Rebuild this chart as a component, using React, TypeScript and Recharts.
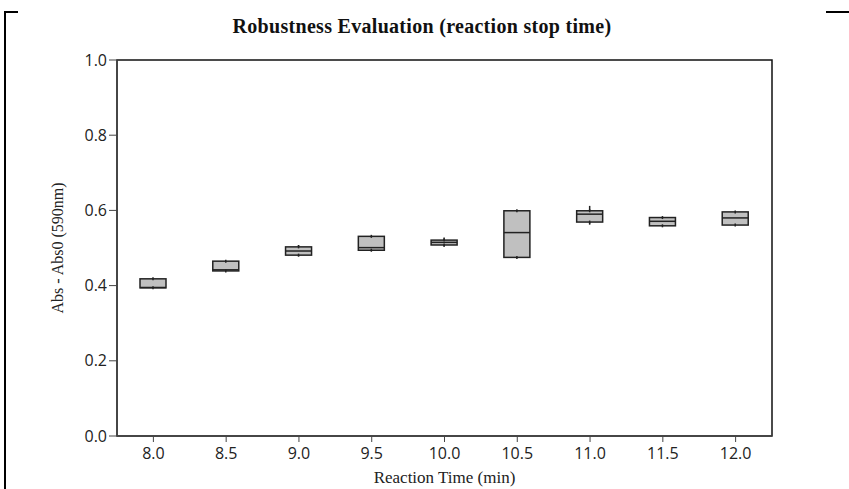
import React from "react";
import {
  ComposedChart,
  Bar,
  XAxis,
  YAxis,
  ReferenceArea,
} from "recharts";

// reaction stop time (min)
const times = ["8.0", "8.5", "9.0", "9.5", "10.0", "10.5", "11.0", "11.5", "12.0"];
const lows = [0.394, 0.439, 0.478, 0.494, 0.503, 0.475, 0.562, 0.559, 0.561];
const q1s = [0.394, 0.439, 0.481, 0.494, 0.508, 0.475, 0.569, 0.559, 0.561];
const medians = [0.395, 0.442, 0.492, 0.501, 0.515, 0.541, 0.59, 0.571, 0.58];
const q3s = [0.418, 0.465, 0.503, 0.531, 0.521, 0.599, 0.599, 0.581, 0.596];
const highs = [0.418, 0.465, 0.508, 0.531, 0.528, 0.599, 0.612, 0.581, 0.596];
const yTicks = [0, 0.2, 0.4, 0.6, 0.8, 1.0];

const data = times.map((t, i) => ({
  time: t,
  low: lows[i],
  q1: q1s[i],
  median: medians[i],
  q3: q3s[i],
  high: highs[i],
}));

const tickFont = { fill: "#222", fontSize: 16, fontFamily: "'Open Sans', sans-serif" };
const serif = "'Liberation Serif', serif";

// box drawn from the q1..q3 range bar; median/whiskers placed using the same px-per-unit
function BoxShape(props: any) {
  const { x, y, width, height, payload } = props;
  const top = Math.min(y, y + height);
  const h = Math.abs(height);
  const span = payload.q3 - payload.q1;
  const pxPer = span > 0 ? h / span : 0;
  const cx = x + width / 2;
  const medY = top + (payload.q3 - payload.median) * pxPer;
  const hiY = top - (payload.high - payload.q3) * pxPer;
  const loY = top + h + (payload.q1 - payload.low) * pxPer;
  return (
    <g>
      <line x1={cx} x2={cx} y1={hiY} y2={loY} stroke="#222" strokeWidth={1.5} />
      <rect x={x} y={top} width={width} height={h} fill="#c0c0c0" stroke="#222" strokeWidth={1.5} />
      <line x1={x} x2={x + width} y1={medY} y2={medY} stroke="#222" strokeWidth={1.5} />
      <line x1={cx} x2={cx} y1={top - 1.5} y2={top + 1.5} stroke="#222" strokeWidth={1.5} />
      <line x1={cx} x2={cx} y1={top + h - 1.5} y2={top + h + 1.5} stroke="#222" strokeWidth={1.5} />
    </g>
  );
}

export default function App() {
  return (
    <div style={{ position: "absolute", left: 0, top: 0, width: 849, height: 489, background: "#fff" }}>
      {/* outer frame fragments */}
      <div style={{ position: "absolute", left: 4, top: 11, width: 2, height: 478, background: "#000" }} />
      <div style={{ position: "absolute", left: 4, top: 11, width: 14, height: 2, background: "#000" }} />
      <div style={{ position: "absolute", left: 826, top: 11, width: 23, height: 2, background: "#000" }} />
      <div
        style={{
          position: "absolute",
          left: 0,
          width: 844,
          top: 15,
          textAlign: "center",
          fontFamily: serif,
          fontWeight: "bold",
          fontSize: 20,
          letterSpacing: 0.3,
          color: "#111",
        }}
      >
        Robustness Evaluation (reaction stop time)
      </div>
      <ComposedChart
        width={849}
        height={489}
        data={data}
        margin={{ top: 60, right: 77, bottom: 20, left: 57 }}
        barCategoryGap={0}
      >
        <XAxis
          dataKey="time"
          height={33}
          tick={tickFont}
          tickSize={6}
          tickMargin={6}
          axisLine={{ stroke: "#444", strokeWidth: 1.5 }}
          tickLine={{ stroke: "#444" }}
          interval={0}
          label={{
            value: "Reaction Time (min)",
            position: "insideBottom",
            offset: -14,
            fill: "#222",
            style: { fill: "#222", fontSize: 17, fontFamily: serif },
          }}
        />
        <YAxis
          width={60}
          domain={[0, 1]}
          ticks={yTicks}
          tickFormatter={(v: number) => v.toFixed(1)}
          tick={tickFont}
          tickSize={8}
          axisLine={{ stroke: "#444", strokeWidth: 1.5 }}
          tickLine={{ stroke: "#444" }}
          label={{
            value: "Abs - Abs0 (590nm)",
            angle: -90,
            position: "insideLeft",
            offset: 0,
            fill: "#222",
            style: { fill: "#222", fontSize: 16, fontFamily: serif, textAnchor: "middle" },
          }}
        />
        <ReferenceArea
          x1="8.0"
          x2="12.0"
          y1={0}
          y2={1}
          fill="none"
          stroke="#111"
          strokeWidth={1.5}
          ifOverflow="extendDomain"
        />
        <Bar
          dataKey={(d: any) => [d.q1, d.q3]}
          barSize={26}
          shape={<BoxShape />}
          isAnimationActive={false}
        />
      </ComposedChart>
    </div>
  );
}
